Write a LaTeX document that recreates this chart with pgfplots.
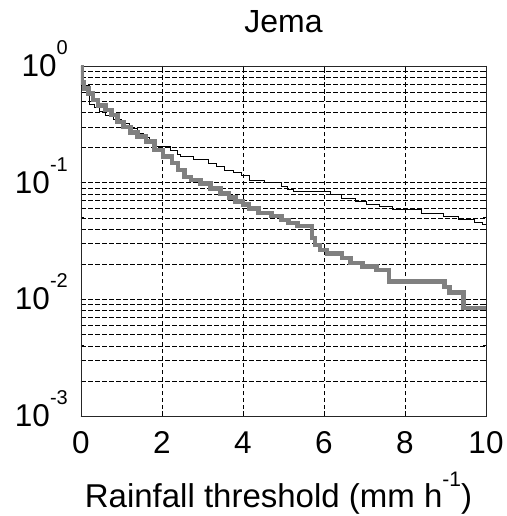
\documentclass[border=0pt]{standalone}
\usepackage{pgfplots}
\pgfplotsset{compat=1.18}
\usepackage{fontspec}
\setmainfont{Liberation Sans}

\definecolor{exceedgray}{RGB}{128,128,128}

% raised exponent, set at about two thirds of the surrounding size
\newcommand{\expo}[1]{\raisebox{0.7em}{\fontsize{20}{24}\selectfont #1}}
\newcommand{\expox}[1]{\raisebox{0.62em}{\fontsize{21}{25}\selectfont #1}}

% Exceedance curves: step value starts at x and holds until the next x
\pgfplotstableread{
x      p
0      0.68
0.2    0.47
0.33   0.44
0.45   0.41
0.6    0.38
0.8    0.35
1.0    0.32
1.2    0.29
1.4    0.265
1.55   0.245
1.7    0.225
1.85   0.206
2.2    0.188
2.37   0.176
2.45   0.167
2.78   0.159
3.14   0.147
3.35   0.137
3.55   0.128
3.76   0.122
3.96   0.115
4.17   0.105
4.54   0.1
4.95   0.092
5.1    0.087
5.25   0.084
6.17   0.079
6.42   0.0735
6.78   0.0687
7.05   0.0656
7.38   0.0622
7.7    0.059
8.41   0.054
8.94   0.0512
9.33   0.0486
9.72   0.0458
9.92   0.044
10     0.044
}\thinseries

\pgfplotstableread{
x      p
0      1.0
0.02   0.72
0.08   0.64
0.18   0.58
0.3    0.51
0.42   0.46
0.6    0.42
0.75   0.38
0.9    0.33
1.05   0.30
1.22   0.27
1.4    0.248
1.6    0.225
1.82   0.19
2.03   0.167
2.25   0.147
2.4    0.128
2.55   0.112
2.72   0.105
2.95   0.098
3.2    0.089
3.45   0.081
3.65   0.075
3.82   0.069
4.0    0.065
4.15   0.060
4.38   0.0547
4.7    0.0518
4.95   0.0479
5.12   0.0449
5.35   0.0425
5.7    0.0334
5.78   0.0292
5.9    0.0265
6.07   0.0248
6.45   0.0225
6.65   0.0204
6.95   0.0191
7.3    0.0178
7.6    0.0142
8.98   0.0128
9.1    0.0115
9.45   0.0084
10     0.0084
}\thickseries

\begin{document}
\begin{tikzpicture}
\useasboundingbox (-81pt,-100pt) rectangle (425pt,416pt);
\begin{axis}[
  scale only axis,
  width=405pt, height=350pt,
  xmin=0, xmax=10, ymin=1e-3, ymax=1,
  ymode=log,
  xtick={0,2,4,6,8,10},
  ytick={1e-3,1e-2,1e-1,1},
  yticklabels={10\expo{-3},10\expo{-2},10\expo{-1},10\expo{0}},
  xmajorgrids, ymajorgrids, yminorgrids,
  grid style={black, line width=0.5pt, dash pattern=on 4.5pt off 2.5pt},
  minor grid style={black, line width=0.5pt, dash pattern=on 4.5pt off 2.5pt},
  axis line style={line width=0.8pt, black!85},
  tick align=inside, major tick length=5pt, minor tick length=3pt,
  tick style={black, line width=0.6pt},
  /pgf/number format/assume math mode=true,
  ticklabel style={font=\fontsize{31.5}{37}\selectfont},
  xticklabel style={anchor=base, yshift=-37pt},
  yticklabel style={anchor=base east, inner sep=0pt, xshift=-13pt, yshift=-10.5pt},
  title={Jema},
  every axis title shift=0pt,
  title style={font=\fontsize{32}{38}\selectfont, at={(0.5,1)}, anchor=base, yshift=33pt, inner sep=0pt},
  xlabel={Rainfall threshold (mm h\expox{-1})},
  xlabel style={font=\fontsize{33}{39}\selectfont, at={(0.5,0)}, anchor=base, yshift=-91pt, xshift=-5pt, inner sep=0pt},
]
\addplot[const plot, black, line width=0.9pt] table[x=x, y=p] {\thinseries};
\addplot[const plot, exceedgray, line width=4.5pt] table[x=x, y=p] {\thickseries};
\end{axis}
\end{tikzpicture}
\end{document}
